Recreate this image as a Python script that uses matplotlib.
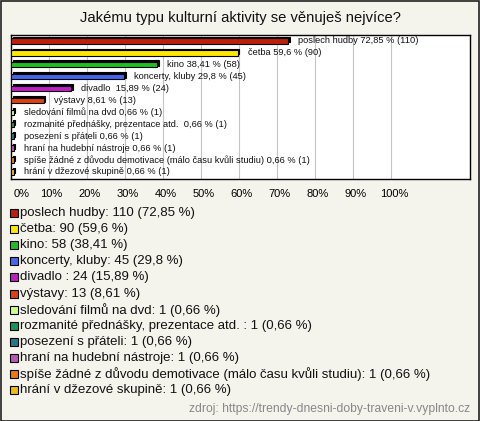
import matplotlib
matplotlib.use("Agg")
import matplotlib.pyplot as plt
import matplotlib.transforms as mtransforms
from matplotlib.patches import Rectangle

plt.rcParams['font.family'] = ['Liberation Sans', 'DejaVu Sans']

title = "Jakému typu kulturní aktivity se věnuješ nejvíce?"
categories = ["poslech hudby", "četba", "kino", "koncerty, kluby", "divadlo ",
              "výstavy", "sledování filmů na dvd", "rozmanité přednášky, prezentace atd. ",
              "posezení s přáteli", "hraní na hudební nástroje",
              "spíše žádné z důvodu demotivace (málo času kvůli studiu)",
              "hrání v džezové skupině"]
counts = [110, 90, 58, 45, 24, 13, 1, 1, 1, 1, 1, 1]
percents = [72.85, 59.6, 38.41, 29.8, 15.89, 8.61, 0.66, 0.66, 0.66, 0.66, 0.66, 0.66]
colors = ["#c01e0c", "#ffe800", "#1fbf1f", "#4466ee", "#c41cc4", "#e0400f",
          "#ccff88", "#119955", "#1f7a8c", "#bb55bb", "#ee7711", "#eebb11"]
xticks = [0, 10, 20, 30, 40, 50, 60, 70, 80, 90, 100]
xticklabels = [f"{t}%" for t in xticks]
source = "zdroj: https://trendy-dnesni-doby-traveni-v.vyplnto.cz"

def fmt(v):
    return f"{v:g}".replace('.', ',')

W, H = 480, 421
fig = plt.figure(figsize=(W / 100, H / 100), dpi=100)
fig.patch.set_facecolor("#f4f3ec")
fig.patches.append(Rectangle((0.5 / W, 0.5 / H), 1 - 1.5 / W, 1 - 1.5 / H,
                             transform=fig.transFigure, fill=False,
                             edgecolor="#222222", linewidth=1.2))

left, right, top, bottom = 11, 470, 35, 179
ax = fig.add_axes([left / W, 1 - bottom / H, (right - left) / W, (bottom - top) / H])
ax.set_facecolor("white")
ax.set_xlim(0, 120.7)
n = len(categories)
ax.set_ylim(n - 0.4, -0.5)
for s in ax.spines.values():
    s.set_color("black")
    s.set_linewidth(1.0)

for t in xticks[1:]:
    ax.axvline(t, color="#c4c4c4", linewidth=0.8, zorder=0)

ypos = list(range(n))
shadow_tr = mtransforms.offset_copy(ax.transData, fig=fig, x=1.6, y=1.6, units='dots')
sh = ax.barh(ypos, percents, height=0.45, color="black", edgecolor="black",
             linewidth=0.8, zorder=2)
for p in sh.patches:
    p.set_transform(shadow_tr)
ax.barh(ypos, percents, height=0.45, color=colors, edgecolor="black",
        linewidth=0.8, zorder=3)

label_tr = mtransforms.offset_copy(ax.transData, fig=fig, x=10, y=0, units='dots')
for y, name, c, p in zip(ypos, categories, counts, percents):
    ax.text(p, y, f"{name} {fmt(p)} % ({c})", transform=label_tr,
            fontsize=6.7, va='center', ha='left', color="#111111", zorder=4)

ax.set_xticks(xticks)
ax.set_xticklabels(xticklabels, fontsize=8)
ax.tick_params(axis='x', length=0, pad=7)
ax.set_yticks([])
shift = mtransforms.ScaledTranslation(2.5 / 100, 0, fig.dpi_scale_trans)
tlabels = ax.get_xticklabels()
for lab in tlabels:
    lab.set_transform(lab.get_transform() + shift)
tlabels[0].set_horizontalalignment('left')

fig.text(0.5, 1 - 18 / H, title, ha='center', va='center', fontsize=10.6, color="#111111")

# legend
y0, pitch = 213, 16.1
for i, (name, c, p, col) in enumerate(zip(categories, counts, percents, colors)):
    yc = y0 + i * pitch
    fig.patches.append(Rectangle((10 / W, 1 - (yc + 4) / H), 8 / W, 8 / H,
                                 transform=fig.transFigure, facecolor=col,
                                 edgecolor="black", linewidth=0.8))
    fig.text(20 / W, 1 - yc / H, f"{name}: {c} ({fmt(p)} %)", ha='left', va='center',
             fontsize=9.5, color="#111111")

fig.text(470 / W, 1 - 409 / H, source, ha='right', va='center', fontsize=8.7, color="#888888")

fig.savefig("out.png", dpi=100, facecolor=fig.get_facecolor())
